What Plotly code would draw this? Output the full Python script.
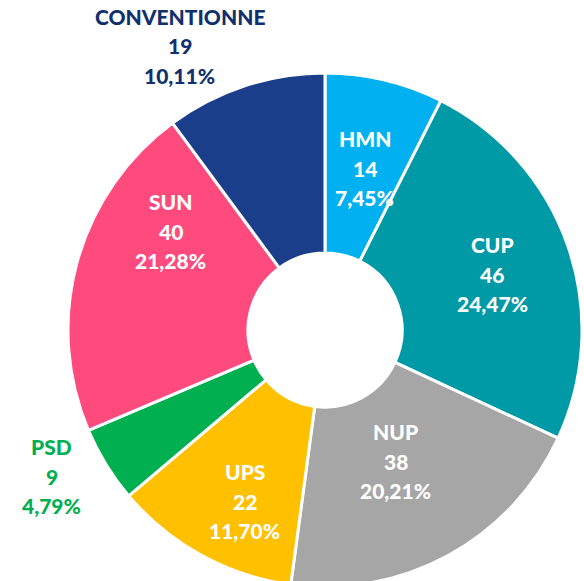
import plotly.graph_objects as go

labels = ["HMN", "CUP", "NUP", "UPS", "PSD", "SUN", "CONVENTIONNE"]
values = [14, 46, 38, 22, 9, 40, 19]
colors = ["#00B0F0", "#009AA6", "#A6A6A6", "#FFC000", "#00B050", "#FF4A7D", "#1A3E8A"]

total = sum(values)

fig = go.Figure(go.Pie(
    labels=labels,
    values=values,
    sort=False,
    direction="clockwise",
    rotation=0,
    hole=0.30,
    marker=dict(colors=colors, line=dict(color="white", width=3)),
    textinfo="none",
    showlegend=False,
    hoverinfo="label+value+percent",
))

# label layout (pixel centres of the middle line) and text colours
W, H = 584, 587
L, R, T, B = 68, 2, 73, 0
label_pos = {
    "HMN": (364.5, 168),
    "CUP": (492, 274),
    "NUP": (395.5, 461),
    "UPS": (244.5, 501),
    "PSD": (51.5, 476),
    "SUN": (170.5, 231),
    "CONVENTIONNE": (179.5, 46),
}
label_color = {"PSD": "#00B050", "CONVENTIONNE": "#11306E"}
line_gap = 29.3
pw, ph = W - L - R, H - T - B

for lab, val in zip(labels, values):
    pct = f"{val / total * 100:.2f}".replace(".", ",") + "%"
    cx, cy = label_pos[lab]
    for k, line in enumerate([lab, str(val), pct]):
        py = cy + (k - 1) * line_gap
        fig.add_annotation(
            x=(cx - L) / pw, y=1 - (py - T) / ph, xref="paper", yref="paper",
            text=line, showarrow=False, align="center",
            xanchor="center", yanchor="middle",
            font=dict(family="Lato", size=21, color=label_color.get(lab, "white"), weight=900),
        )

fig.update_layout(
    width=W, height=H,
    margin=dict(l=L, r=R, t=T, b=B),
    paper_bgcolor="white",
    plot_bgcolor="white",
)

fig.write_html(
    "out.html",
    config={"displayModeBar": False},
    post_script="document.body.style.margin='0';document.body.style.overflow='hidden';",
)
